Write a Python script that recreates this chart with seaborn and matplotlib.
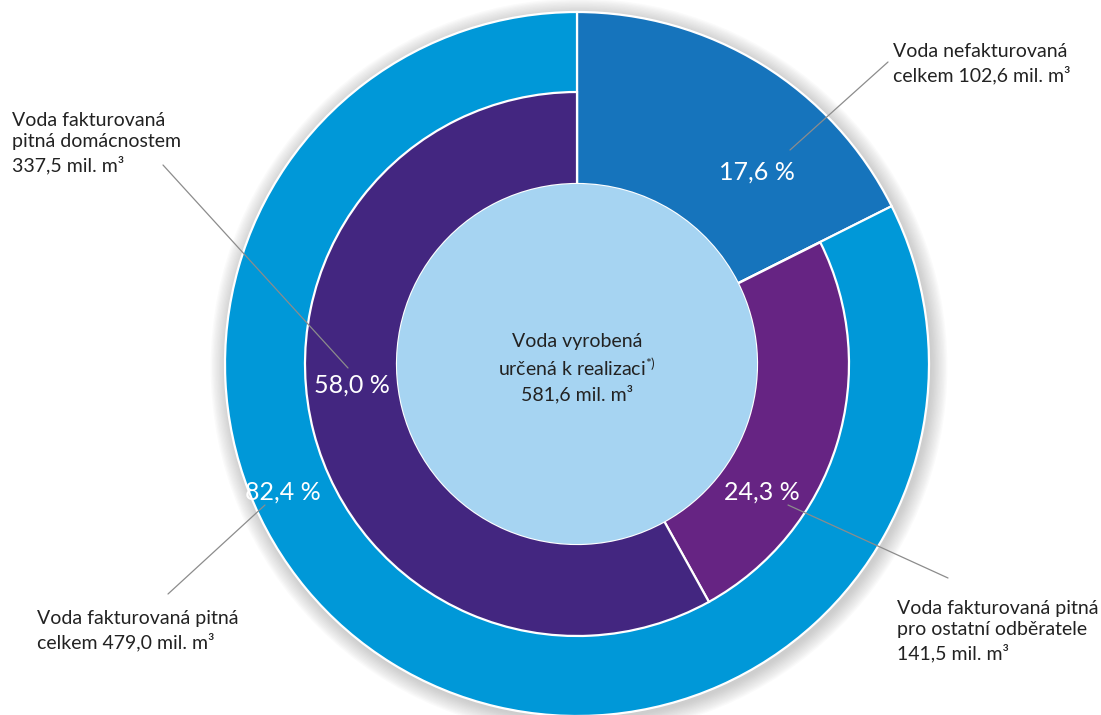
import matplotlib
matplotlib.use("Agg")
import matplotlib.pyplot as plt
import seaborn as sns
from matplotlib.patches import Circle

# Data (mil. m3 and shares)
outer_labels = ["Voda nefakturovaná", "Voda fakturovaná pitná celkem"]
outer_values = [17.6, 82.4]
inner_labels = ["Voda nefakturovaná", "pro ostatní odběratele", "domácnostem"]
inner_values = [17.6, 24.3, 58.0]
total_text = "Voda vyrobená\nurčená k realizaci$^{*)}$\n581,6 mil. m³"

outer_colors = ["#1674bc", "#0098d8"]
inner_colors = ["none", "#662483", "#432680"]
center_color = "#a6d4f2"
text_color = "#222222"

sns.set_theme(style="white")
plt.rcParams["font.family"] = ["Lato", "DejaVu Sans"]
plt.rcParams["mathtext.fontset"] = "custom"
plt.rcParams["mathtext.rm"] = "Lato"

W, H = 1101, 715
fig = plt.figure(figsize=(W / 100, H / 100), dpi=100)
ax = fig.add_axes([0, 0, 1, 1])

cx, cy = 577, H - 364
r_out, r_mid, r_in = 352, 272, 180

# soft shadow behind outer ring
for i in range(12):
    ax.add_patch(Circle((cx + 2, cy - 3), r_out + 1 + i * 1.4, color="#808080",
                        alpha=0.035, lw=0, zorder=0))

wedges_o, _ = ax.pie(outer_values, colors=outer_colors, radius=r_out, center=(cx, cy),
                     startangle=90, counterclock=False, frame=True,
                     wedgeprops=dict(width=r_out - r_in, edgecolor="white", linewidth=1.6))
wedges_i, _ = ax.pie(inner_values, colors=inner_colors, radius=r_mid, center=(cx, cy),
                     startangle=90, counterclock=False, frame=True,
                     wedgeprops=dict(width=r_mid - r_in, edgecolor="white", linewidth=1.6))
wedges_i[0].set_linewidth(0)
ax.add_patch(Circle((cx, cy), r_in, color=center_color, lw=0, zorder=5))

ax.set_xlim(0, W)
ax.set_ylim(0, H)
ax.set_aspect("equal")
ax.axis("off")

# percentage labels
pct = [("17,6 %", 757, 172), ("58,0 %", 352, 385), ("82,4 %", 283, 492), ("24,3 %", 762, 492)]
for t, x, y in pct:
    ax.text(x, H - y, t, color="white", fontsize=18, ha="center", va="center", zorder=6)

ax.text(cx, H - 368, total_text, color=text_color, fontsize=14, ha="center", va="center",
        linespacing=1.35, zorder=6)

# callouts
callouts = [
    ("Voda nefakturovaná\ncelkem 102,6 mil. m³", 893, 64, (888, 62), (790, 150)),
    ("Voda fakturovaná\npitná domácnostem\n337,5 mil. m³", 12, 143, (163, 165), (348, 368)),
    ("Voda fakturovaná pitná\ncelkem 479,0 mil. m³", 37, 631, (168, 594), (265, 505)),
    ("Voda fakturovaná pitná\npro ostatní odběratele\n141,5 mil. m³", 897, 631, (948, 578), (788, 505)),
]
for t, x, y, p0, p1 in callouts:
    ax.text(x, H - y, t, color=text_color, fontsize=14, ha="left", va="center",
            linespacing=1.35, zorder=6)
    ax.plot([p0[0], p1[0]], [H - p0[1], H - p1[1]], color="#8c8c8c", lw=0.9, zorder=7)

fig.savefig("out.png", dpi=100)
